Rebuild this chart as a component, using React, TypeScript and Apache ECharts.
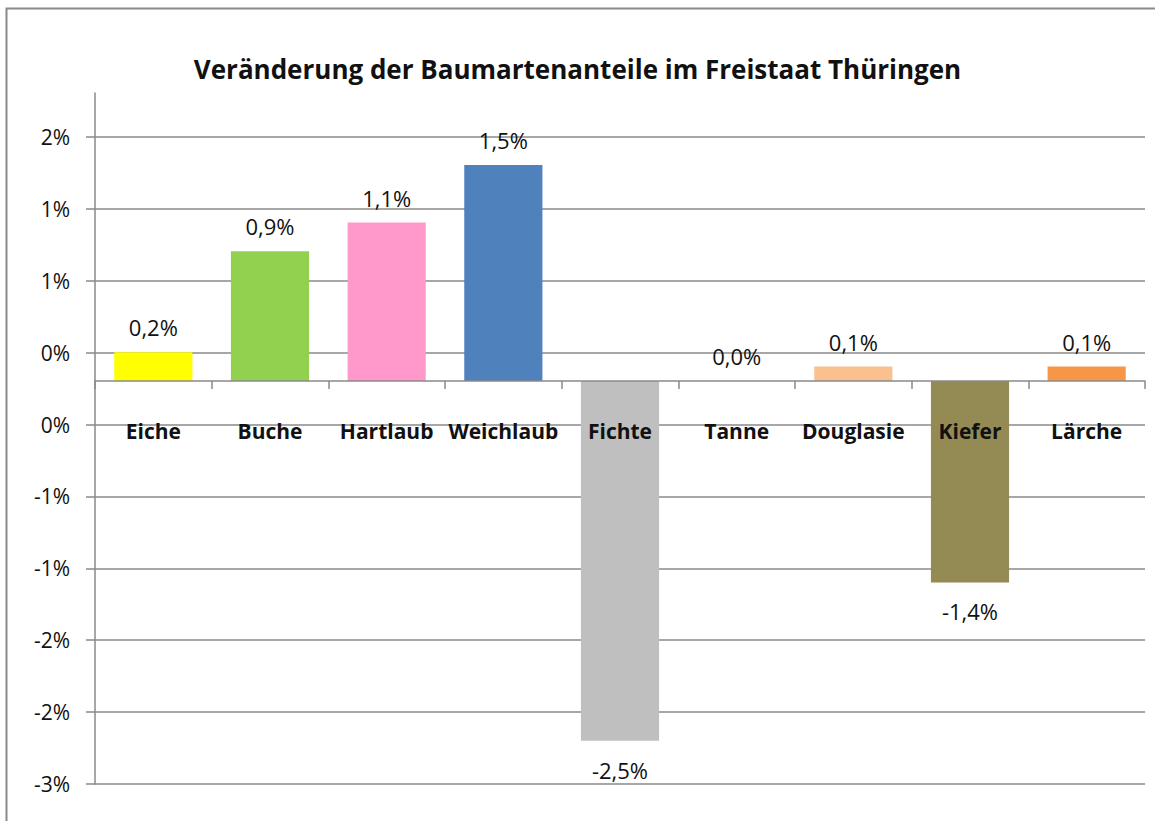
import React, { useEffect, useRef } from "react";
import * as echarts from "echarts";

const categories = ["Eiche", "Buche", "Hartlaub", "Weichlaub", "Fichte", "Tanne", "Douglasie", "Kiefer", "Lärche"];
const values = [0.2, 0.9, 1.1, 1.5, -2.5, 0.0, 0.1, -1.4, 0.1];
const barColors = ["#FFFF00", "#92D050", "#FF99CC", "#4F81BD", "#BFBFBF", "#C0504D", "#FAC090", "#948A54", "#F79646"];
const yTickLabels = ["-3%", "-2%", "-2%", "-1%", "-1%", "0%", "0%", "1%", "1%", "2%"];
const yMin = -2.8;
const yMax = 2.0;
const titleText = "Veränderung der Baumartenanteile im Freistaat Thüringen";

const FONT = "'Open Sans', sans-serif";
const GRID_COLOR = "#8a8a8a";
const TEXT_COLOR = "#111";

const W = 1155;
const H = 821;
const PLOT_LEFT = 95;
const PLOT_RIGHT = 10;
const PLOT_TOP = 93;
const PLOT_BOTTOM = 37;
const TICK_TOP = 137;

export default function App() {
  const ref = useRef<HTMLDivElement>(null);
  useEffect(() => {
    if (!ref.current) return;
    const chart = echarts.init(ref.current, null, { renderer: "svg" });
    const fmt = (v: number) => v.toFixed(1).replace(".", ",") + "%";
    const plotH = H - PLOT_TOP - PLOT_BOTTOM;
    const zeroFromBottom = ((0 - yMin) / (yMax - yMin)) * plotH;
    chart.setOption({
      animation: false,
      backgroundColor: "#ffffff",
      title: {
        text: titleText,
        left: "center",
        top: 51,
        textStyle: { fontFamily: FONT, fontSize: 26, fontWeight: "bold", color: TEXT_COLOR },
      },
      graphic: [
        {
          type: "rect",
          shape: { x: 6.5, y: 8.5, width: 1160, height: 830 },
          style: { fill: "none", stroke: "#8a8a8a", lineWidth: 2 },
          silent: true,
        },
      ],
      grid: [
        { left: PLOT_LEFT, right: PLOT_RIGHT, top: PLOT_TOP, bottom: PLOT_BOTTOM, outerBoundsMode: "none" },
        { left: PLOT_LEFT, right: PLOT_RIGHT, top: TICK_TOP, bottom: PLOT_BOTTOM, outerBoundsMode: "none" },
      ],
      xAxis: [
        {
          type: "category",
          gridIndex: 0,
          data: categories,
          z: 5,
          offset: -zeroFromBottom,
          axisLine: { onZero: false, lineStyle: { color: GRID_COLOR, width: 1.5 } },
          axisTick: { show: true, length: 8, lineStyle: { color: GRID_COLOR, width: 1.5 } },
          axisLabel: {
            interval: 0,
            hideOverlap: false,
            margin: 40,
            fontFamily: FONT,
            fontSize: 21,
            fontWeight: "bold",
            color: TEXT_COLOR,
          },
          splitLine: { show: false },
        },
        { type: "value", gridIndex: 1, show: false },
      ],
      yAxis: [
        {
          type: "value",
          gridIndex: 0,
          min: yMin,
          max: yMax,
          axisLine: { show: true, lineStyle: { color: GRID_COLOR, width: 1.5 } },
          axisTick: { show: false },
          axisLabel: { show: false },
          splitLine: { show: false },
        },
        {
          type: "value",
          gridIndex: 1,
          min: 0,
          max: yTickLabels.length - 1,
          interval: 1,
          axisLine: { show: false },
          axisTick: { show: true, length: 9, lineStyle: { color: GRID_COLOR, width: 1.5 } },
          axisLabel: {
            margin: 25,
            fontFamily: FONT,
            fontSize: 21,
            color: TEXT_COLOR,
            formatter: (v: number) => yTickLabels[Math.round(v)] ?? "",
          },
          splitLine: { show: true, lineStyle: { color: GRID_COLOR, width: 1.5 } },
        },
      ],
      series: [
        {
          type: "bar",
          xAxisIndex: 0,
          yAxisIndex: 0,
          barCategoryGap: "33%",
          data: values.map((v, i) => ({
            value: v,
            itemStyle: { color: barColors[i] },
            label: v < 0 ? { position: "bottom", distance: 18 } : { position: "top", distance: 14 },
          })),
          label: {
            show: true,
            fontFamily: FONT,
            fontSize: 22,
            color: TEXT_COLOR,
            formatter: (p: any) => fmt(p.value),
          },
        },
      ],
    });
    return () => chart.dispose();
  }, []);
  return (
    <div ref={ref} style={{ position: "absolute", left: 0, top: 0, width: W, height: H }} />
  );
}
